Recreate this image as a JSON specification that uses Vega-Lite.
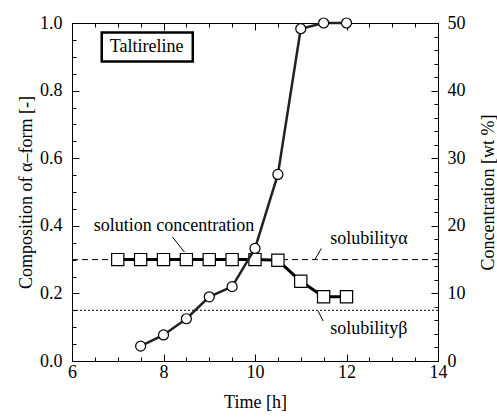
{
  "$schema": "https://vega.github.io/schema/vega-lite/v6.json",
  "autosize": "none",
  "width": 366,
  "height": 338,
  "padding": {"left": 72, "top": 23, "right": 59, "bottom": 58},
  "background": "white",
  "config": {
    "view": {"stroke": "black", "strokeWidth": 1},
    "axis": {
      "labelFont": "Liberation Serif", "labelFontSize": 18, "labelColor": "black",
      "titleFont": "Liberation Serif", "titleFontSize": 18, "titleFontWeight": "normal", "titleColor": "black",
      "tickColor": "black", "tickWidth": 1, "domainColor": "black", "grid": false,
      "labelOverlap": false, "labelFlush": false
    }
  },
  "datasets": {
    "alpha": [
      {"time": 7.5, "composition": 0.044},
      {"time": 8.0, "composition": 0.077},
      {"time": 8.5, "composition": 0.125},
      {"time": 9.0, "composition": 0.19},
      {"time": 9.5, "composition": 0.22},
      {"time": 10.0, "composition": 0.333},
      {"time": 10.5, "composition": 0.552},
      {"time": 11.0, "composition": 0.983},
      {"time": 11.5, "composition": 1.0},
      {"time": 12.0, "composition": 1.0}
    ],
    "conc": [
      {"time": 7.0, "concentration": 15},
      {"time": 7.5, "concentration": 15},
      {"time": 8.0, "concentration": 15},
      {"time": 8.5, "concentration": 15},
      {"time": 9.0, "concentration": 15},
      {"time": 9.5, "concentration": 15},
      {"time": 10.0, "concentration": 15},
      {"time": 10.5, "concentration": 14.9},
      {"time": 11.0, "concentration": 11.8},
      {"time": 11.5, "concentration": 9.5},
      {"time": 12.0, "concentration": 9.5}
    ],
    "solubility": [
      {"form": "alpha", "value": 15, "t0": 6, "t1": 14},
      {"form": "beta", "value": 7.5, "t0": 6, "t1": 14}
    ],
    "labels": [
      {"text": "Taltireline", "time": 7.63, "composition": 0.928},
      {"text": "solution concentration", "time": 8.23, "composition": 0.398},
      {"text": "solubilityα", "time": 12.49, "composition": 0.36},
      {"text": "solubilityβ", "time": 12.49, "composition": 0.094}
    ],
    "leaders": [
      {"t0": 8.2, "c0": 0.366, "t1": 8.46, "c1": 0.322},
      {"t0": 11.45, "c0": 0.333, "t1": 11.31, "c1": 0.30},
      {"t0": 11.38, "c0": 0.148, "t1": 11.49, "c1": 0.118}
    ],
    "box": [
      {"t0": 6.65, "t1": 8.64, "c0": 0.886, "c1": 0.972}
    ]
  },
  "resolve": {"scale": {"x": "independent", "y": "independent"}},
  "layer": [
    {
      "data": {"name": "solubility"},
      "transform": [{"filter": "datum.form === 'alpha'"}],
      "mark": {"type": "rule", "color": "black", "strokeWidth": 1, "strokeDash": [6, 4]},
      "encoding": {
        "x": {"field": "t0", "type": "quantitative", "scale": {"domain": [6, 14], "nice": false}, "axis": null},
        "x2": {"field": "t1"},
        "y": {"field": "value", "type": "quantitative", "scale": {"domain": [0, 50], "nice": false}, "axis": null}
      }
    },
    {
      "data": {"name": "solubility"},
      "transform": [{"filter": "datum.form === 'beta'"}],
      "mark": {"type": "rule", "color": "black", "strokeWidth": 1, "strokeDash": [2, 2]},
      "encoding": {
        "x": {"field": "t0", "type": "quantitative", "scale": {"domain": [6, 14], "nice": false}, "axis": null},
        "x2": {"field": "t1"},
        "y": {"field": "value", "type": "quantitative", "scale": {"domain": [0, 50], "nice": false}, "axis": null}
      }
    },
    {
      "data": {"name": "conc"},
      "mark": {"type": "line", "color": "black", "strokeWidth": 3},
      "encoding": {
        "x": {"field": "time", "type": "quantitative", "scale": {"domain": [6, 14], "nice": false},
          "axis": {"orient": "top", "title": null, "values": [6, 8, 10, 12, 14], "labels": false, "tickSize": -7}},
        "y": {"field": "concentration", "type": "quantitative", "scale": {"domain": [0, 50], "nice": false},
          "axis": {"orient": "right", "title": "Concentration [wt %]", "titleAngle": -90, "titlePadding": 32,
            "values": [0, 10, 20, 30, 40, 50], "tickSize": -7, "labelPadding": 16}}
      }
    },
    {
      "data": {"name": "conc"},
      "mark": {"type": "point", "shape": "square", "filled": true, "fill": "white", "stroke": "black", "strokeWidth": 1.2, "size": 150, "opacity": 1},
      "encoding": {
        "x": {"field": "time", "type": "quantitative", "scale": {"domain": [6, 14], "nice": false},
          "axis": {"orient": "top", "title": null, "labels": false, "domain": false, "tickSize": -4,
            "values": [6.5, 7, 7.5, 8.5, 9, 9.5, 10.5, 11, 11.5, 12.5, 13, 13.5]}},
        "y": {"field": "concentration", "type": "quantitative", "scale": {"domain": [0, 50], "nice": false},
          "axis": {"orient": "right", "title": null, "labels": false, "domain": false, "tickSize": -4,
            "values": [2, 4, 6, 8, 12, 14, 16, 18, 22, 24, 26, 28, 32, 34, 36, 38, 42, 44, 46, 48]}}
      }
    },
    {
      "data": {"name": "alpha"},
      "mark": {"type": "line", "color": "#222", "strokeWidth": 2.5},
      "encoding": {
        "x": {"field": "time", "type": "quantitative", "scale": {"domain": [6, 14], "nice": false},
          "axis": {"orient": "bottom", "title": "Time [h]", "titlePadding": 12,
            "values": [6, 8, 10, 12, 14], "format": "d", "tickSize": -7, "labelPadding": 9}},
        "y": {"field": "composition", "type": "quantitative", "scale": {"domain": [0, 1], "nice": false},
          "axis": {"orient": "left", "title": "Composition of α–form [-]", "titlePadding": 4,
            "values": [0, 0.2, 0.4, 0.6, 0.8, 1.0], "format": ".1f", "tickSize": -7, "labelPadding": 17}}
      }
    },
    {
      "data": {"name": "alpha"},
      "mark": {"type": "point", "shape": "circle", "filled": true, "fill": "white", "stroke": "black", "strokeWidth": 1.2, "size": 100, "opacity": 1},
      "encoding": {
        "x": {"field": "time", "type": "quantitative", "scale": {"domain": [6, 14], "nice": false},
          "axis": {"orient": "bottom", "title": null, "labels": false, "domain": false, "tickSize": -4,
            "values": [6.5, 7, 7.5, 8.5, 9, 9.5, 10.5, 11, 11.5, 12.5, 13, 13.5]}},
        "y": {"field": "composition", "type": "quantitative", "scale": {"domain": [0, 1], "nice": false},
          "axis": {"orient": "left", "title": null, "labels": false, "domain": false, "tickSize": -4,
            "values": [0.05, 0.1, 0.15, 0.25, 0.3, 0.35, 0.45, 0.5, 0.55, 0.65, 0.7, 0.75, 0.85, 0.9, 0.95]}}
      }
    },
    {
      "data": {"name": "box"},
      "mark": {"type": "rect", "fill": "white", "stroke": "black", "strokeWidth": 2.5},
      "encoding": {
        "x": {"field": "t0", "type": "quantitative", "scale": {"domain": [6, 14], "nice": false}, "axis": null},
        "x2": {"field": "t1"},
        "y": {"field": "c0", "type": "quantitative", "scale": {"domain": [0, 1], "nice": false}, "axis": null},
        "y2": {"field": "c1"}
      }
    },
    {
      "data": {"name": "leaders"},
      "mark": {"type": "rule", "color": "black", "strokeWidth": 1},
      "encoding": {
        "x": {"field": "t0", "type": "quantitative", "scale": {"domain": [6, 14], "nice": false}, "axis": null},
        "x2": {"field": "t1"},
        "y": {"field": "c0", "type": "quantitative", "scale": {"domain": [0, 1], "nice": false}, "axis": null},
        "y2": {"field": "c1"}
      }
    },
    {
      "data": {"name": "labels"},
      "mark": {"type": "text", "font": "Liberation Serif", "fontSize": 18, "color": "black", "align": "center", "baseline": "middle"},
      "encoding": {
        "x": {"field": "time", "type": "quantitative", "scale": {"domain": [6, 14], "nice": false}, "axis": null},
        "y": {"field": "composition", "type": "quantitative", "scale": {"domain": [0, 1], "nice": false}, "axis": null},
        "text": {"field": "text"}
      }
    }
  ]
}
